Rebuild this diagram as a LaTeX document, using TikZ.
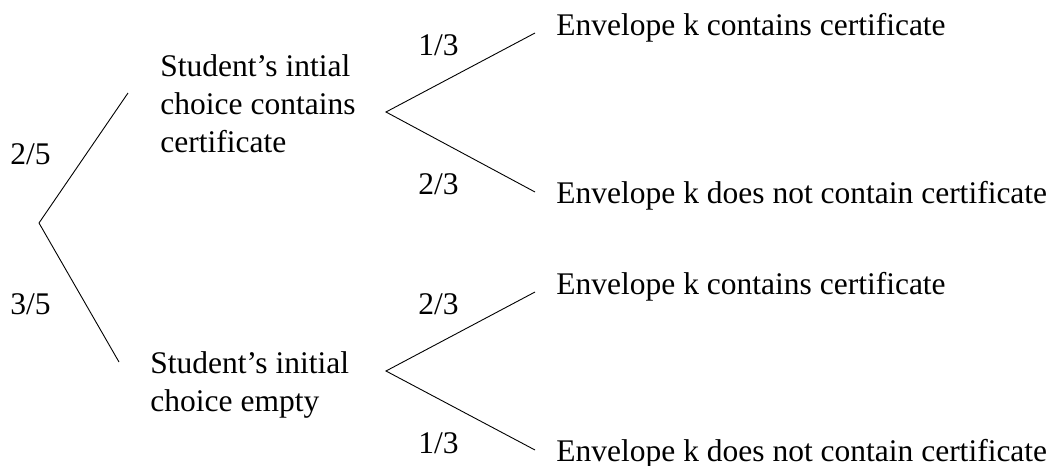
\documentclass[tikz,border=0pt]{standalone}
\usepackage{fontspec}
\setmainfont{Liberation Serif}
\usepackage{tikz}

\begin{document}
\begin{tikzpicture}[x=1pt, y=-1pt, line width=0.9pt,
    txt/.style={anchor=base west, inner sep=0pt, align=left,
      font=\fontsize{31.5}{38}\selectfont}]
  \useasboundingbox (0,0) rectangle (1050,466);
  % first choice (base of a block = its last line)
  \coordinate (root) at (39,223);
  \coordinate (hasEnd) at (128,93);
  \coordinate (emptyEnd) at (119,362);
  \draw (root) -- (hasEnd);
  \draw (root) -- (emptyEnd);
  \node[txt] (pHas) at (10,164) {2/5};
  \node[txt] (pEmpty) at (10,314) {3/5};
  \node[txt] (hasCert) at (160,152) {Student's intial\\choice contains\\certificate};
  \node[txt] (isEmpty) at (150,411) {Student's initial\\choice empty};
  % envelope k
  \foreach \nm/\yv/\ya/\yb/\pa/\pb in {%
    up/112/33/192/{1/3}/{2/3},
    low/371/292/450/{2/3}/{1/3}
    } {
    \coordinate (\nm) at (386,\yv);
    \coordinate (\nm A) at (535,\ya);
    \coordinate (\nm B) at (535,\yb);
    \draw (\nm A) -- (\nm) -- (\nm B);
    \node[txt] (\nm PA) at (418,\yv-57) {\pa};
    \node[txt] (\nm PB) at (418,\yv+82) {\pb};
    \node[txt] (\nm Yes) at (556,\ya+2) {Envelope k contains certificate};
    \node[txt] (\nm No) at (556,\yb+11) {Envelope k does not contain certificate};
  }
\end{tikzpicture}
\end{document}
